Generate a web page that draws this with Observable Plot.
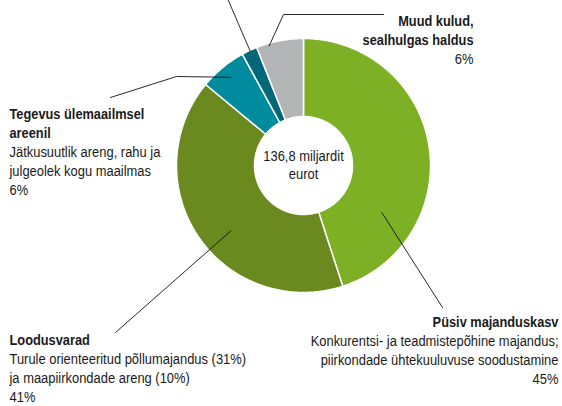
<!DOCTYPE html>
<html><head><meta charset="utf-8">
<script src="https://cdn.jsdelivr.net/npm/d3@7"></script>
<script src="https://cdn.jsdelivr.net/npm/@observablehq/plot@0.6"></script>
<style>body{margin:0;background:#fff} svg{display:block}</style>
</head><body><div id="chart"></div>
<script>
// ---- data ----
const categories = ["Püsiv majanduskasv", "Loodusvarad", "Tegevus ülemaailmsel areenil", "Julgeolek ja kodakondsus", "Muud kulud, sealhulgas haldus"];
const values = [45, 41, 6, 2, 6];
const colors = ["#7db024", "#6a891e", "#008b9f", "#006877", "#b3b4b6"];
const centerLines = ["136,8 miljardit", "eurot"];
const titleLines = [["Püsiv majanduskasv"], ["Loodusvarad"], ["Tegevus ülemaailmsel", "areenil"], [], ["Muud kulud,", "sealhulgas haldus"]];
const descLines = [
  ["Konkurentsi- ja teadmistepõhine majandus;", "piirkondade ühtekuuluvuse soodustamine"],
  ["Turule orienteeritud põllumajandus (31%)", "ja maapiirkondade areng (10%)"],
  ["Jätkusuutlik areng, rahu ja", "julgeolek kogu maailmas"],
  [],
  []
];

// ---- layout ----
const W = 562, H = 406;
const cx = 303, cy = 165, R = 127, r0 = 49;
const FONT = "'Liberation Sans', Arial, sans-serif";
const FS = 15.5, FSB = 15.5;
// condensed look: target widths (px) of two reference lines
const regRef = [descLines[0][0], 248], boldRef = [titleLines[0][0], 126];
const labelLayout = [
  {anchor: [121, 0.72], pts: [[442, 307]], x: 558, anchorText: "end", y0: 326},
  {anchor: [228, 0.77], pts: [[115, 332]], x: 9, anchorText: "start", y0: 344},
  {anchor: [320.5, 0.9], pts: [[176, 76], [110, 97]], x: 9, anchorText: "start", y0: 118},
  {anchor: [335, 0.99], pts: [[227, -2]], x: null},
  {anchor: [344, 0.98], pts: [[283, 14], [383, 14]], x: 473, anchorText: "end", y0: 25}
];
const lineStep = 19;

// ---- geometry from data ----
const pie = d3.pie().sort(null).value(d => d)(values);
const polys = [];
pie.forEach((p, i) => {
  const a0 = p.startAngle, a1 = p.endAngle;
  const n = Math.max(4, Math.ceil((a1 - a0) / 0.01));
  for (let k = 0; k <= n; k++) {
    const a = a0 + (a1 - a0) * k / n;
    polys.push({i, x: cx + R * Math.sin(a), y: cy - R * Math.cos(a)});
  }
  for (let k = n; k >= 0; k--) {
    const a = a0 + (a1 - a0) * k / n;
    polys.push({i, x: cx + r0 * Math.sin(a), y: cy - r0 * Math.cos(a)});
  }
});

const leaders = [];
labelLayout.forEach((L, i) => {
  const a = L.anchor[0] * Math.PI / 180, rr = L.anchor[1] * R;
  leaders.push({i, x: cx + rr * Math.sin(a), y: cy - rr * Math.cos(a)});
  L.pts.forEach(([x, y]) => leaders.push({i, x, y}));
});

const texts = [];
labelLayout.forEach((L, i) => {
  if (L.x == null) return;
  let y = L.y0;
  titleLines[i].forEach(t => { texts.push({t, x: L.x, y, bold: true, anchor: L.anchorText}); y += lineStep; });
  descLines[i].forEach(t => { texts.push({t, x: L.x, y, bold: false, anchor: L.anchorText}); y += lineStep; });
  texts.push({t: values[i] + "%", x: L.x, y, bold: false, anchor: L.anchorText});
});
centerLines.forEach((t, k) => texts.push({t, x: cx, y: 160 + k * 18.5, bold: false, anchor: "middle"}));

const marks = [];
pie.forEach((p, i) => {
  marks.push(Plot.line(polys.filter(d => d.i === i), {x: "x", y: "y", fill: colors[i], stroke: "white", strokeWidth: 1.5, curve: "linear-closed"}));
});
marks.push(Plot.line(leaders, {x: "x", y: "y", z: "i", stroke: "#111", strokeWidth: 0.9}));
["start", "end", "middle"].forEach(anc => {
  [true, false].forEach(b => {
    marks.push(Plot.text(texts.filter(d => d.anchor === anc && d.bold === b), {
      x: "x", y: "y", text: "t", textAnchor: anc, lineAnchor: "bottom",
      fontWeight: b ? "bold" : "normal", fontSize: b ? FSB : FS, fill: "#1a1a1a", fontFamily: FONT
    }));
  });
});

const chart = Plot.plot({
  width: W, height: H, margin: 0,
  x: {domain: [0, W], range: [0, W], axis: null},
  y: {domain: [0, H], range: [0, H], axis: null},
  style: {fontFamily: FONT, background: "white"},
  marks
});
document.getElementById("chart").append(chart);

// horizontal condensing of text (font styling)
function measure(str, weight, size) {
  const t = document.createElementNS("http://www.w3.org/2000/svg", "text");
  t.setAttribute("font-family", FONT); t.setAttribute("font-size", size); t.setAttribute("font-weight", weight);
  t.textContent = str; chart.appendChild(t);
  const w = t.getComputedTextLength(); t.remove(); return w;
}
const sReg = regRef[1] / measure(regRef[0], "normal", FS);
const sBold = boldRef[1] / measure(boldRef[0], "bold", FSB);
chart.querySelectorAll("text").forEach(el => {
  const fw = getComputedStyle(el).fontWeight;
  const s = (fw === "bold" || +fw >= 600) ? sBold : sReg;
  const tr = el.getAttribute("transform");
  if (tr && tr.includes("translate")) {
    el.setAttribute("transform", tr + ` scale(${s},1)`);
  } else {
    const x = +el.getAttribute("x") || 0, y = +el.getAttribute("y") || 0;
    el.removeAttribute("x"); el.removeAttribute("y");
    el.setAttribute("transform", `translate(${x},${y}) scale(${s},1)`);
  }
});
</script>
</body></html>
